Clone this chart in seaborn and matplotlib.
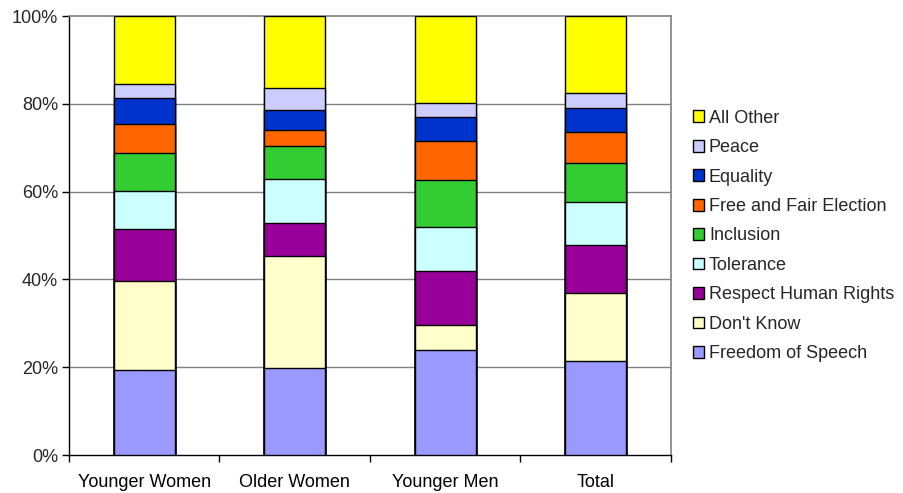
import matplotlib
matplotlib.use("Agg")
import matplotlib.pyplot as plt
from matplotlib.patches import Patch
from matplotlib.ticker import FixedLocator, PercentFormatter
import numpy as np
import pandas as pd
import seaborn as sns

# Survey groups (x axis)
groups = ["Younger Women", "Older Women", "Younger Men", "Total"]

# Share of responses (%) per answer, listed bottom-to-top of each stack
freedom_of_speech = [19.3, 19.9, 24.0, 21.5]
dont_know = [20.4, 25.4, 5.6, 15.3]
respect_human_rights = [11.8, 7.5, 12.4, 11.1]
tolerance = [8.6, 10.1, 9.9, 9.7]
inclusion = [8.6, 7.4, 10.8, 8.9]
free_fair_election = [6.7, 3.8, 8.9, 7.0]
equality = [6.0, 4.6, 5.4, 5.5]
peace = [3.0, 5.0, 3.2, 3.4]
all_other = [15.6, 16.3, 19.8, 17.6]

answers = ["Freedom of Speech", "Don't Know", "Respect Human Rights", "Tolerance",
           "Inclusion", "Free and Fair Election", "Equality", "Peace", "All Other"]
values = [freedom_of_speech, dont_know, respect_human_rights, tolerance,
          inclusion, free_fair_election, equality, peace, all_other]
colors = ["#9999FF", "#FFFFCC", "#990099", "#CCFFFF", "#33CC33",
          "#FF6600", "#0033CC", "#CCCCFF", "#FFFF00"]

sns.set_theme(style="white")
plt.rcParams["font.family"] = ["Liberation Sans", "DejaVu Sans"]

fig = plt.figure(figsize=(9.04, 4.93), dpi=100)
ax = fig.add_axes([69 / 904, 1 - 455 / 493, (671 - 69) / 904, (455 - 16) / 493])

# Stacked bars: draw cumulative totals from the top layer downward
cum = np.cumsum(np.array(values), axis=0)
cum = cum / cum[-1] * 100
for i in range(len(answers) - 1, -1, -1):
    df = pd.DataFrame({"group": groups, "share": cum[i]})
    sns.barplot(data=df, x="group", y="share", color=colors[i], saturation=1,
                width=0.405, edgecolor="black", linewidth=1.0, ax=ax, zorder=3)

ax.set_xlim(-0.5, 3.5)
ax.set_ylim(0, 100)
ax.set_xlabel("")
ax.set_ylabel("")
ax.yaxis.set_major_locator(FixedLocator([0, 20, 40, 60, 80, 100]))
ax.yaxis.set_major_formatter(PercentFormatter(decimals=0))
for y in [20, 40, 60, 80]:
    ax.axhline(y, color="#808080", lw=1.0, zorder=1)

# Category ticks sit between groups
ax.set_xticks([0, 1, 2, 3])
ax.set_xticks([-0.5, 0.5, 1.5, 2.5, 3.5], minor=True)
ax.tick_params(axis="x", which="major", length=0, pad=14, labelsize=13, colors="black")
ax.tick_params(axis="x", which="minor", length=5, width=1, direction="out", color="black", bottom=True)
ax.tick_params(axis="y", which="major", length=5, width=1, direction="out", color="black",
               left=True, pad=3, labelsize=13)

for side in ["top", "right"]:
    ax.spines[side].set_color("#808080")
    ax.spines[side].set_linewidth(1.2)
for side in ["left", "bottom"]:
    ax.spines[side].set_color("black")
    ax.spines[side].set_linewidth(1.0)

handles = [Patch(facecolor=colors[i], edgecolor="black", linewidth=1.0, label=answers[i])
           for i in range(len(answers) - 1, -1, -1)]
fig.legend(handles=handles, loc="center left", bbox_to_anchor=(686 / 904, 1 - 236 / 493),
           frameon=False, fontsize=13, handlelength=0.62, handleheight=0.62,
           handletextpad=0.25, labelspacing=0.69, borderaxespad=0)

fig.savefig("out.png", dpi=100, facecolor="white")
